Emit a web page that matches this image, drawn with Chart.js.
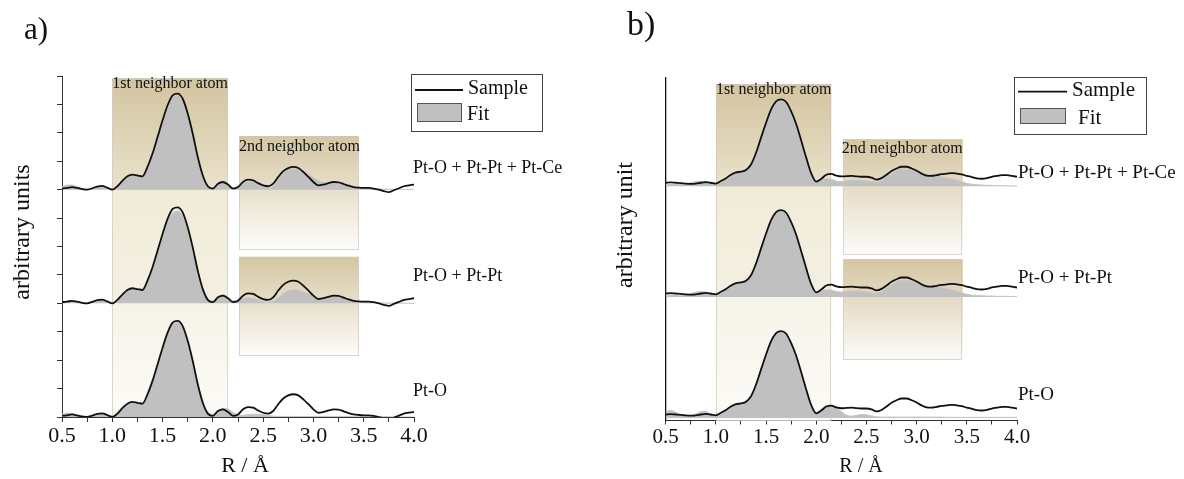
<!DOCTYPE html>
<html><head><meta charset="utf-8">
<script src="https://cdn.jsdelivr.net/npm/chart.js@4.4.1/dist/chart.umd.min.js"></script>
<style>
html,body{margin:0;padding:0;background:#fff;}
#wrap{position:relative;width:1184px;height:479px;overflow:hidden;}
#ca{position:absolute;left:0;top:0;}
#cb{position:absolute;left:590px;top:0;}
</style></head>
<body><div id="wrap"><canvas id="ca" width="590" height="479"></canvas><canvas id="cb" width="594" height="479"></canvas></div>
<script>
// ---------- data ----------
const R = [0.5,0.55,0.6,0.65,0.7,0.75,0.8,0.85,0.9,0.95,1.0,1.05,1.1,1.15,1.2,1.25,1.3,1.35,1.4,1.45,1.5,1.55,1.6,1.65,1.7,1.75,1.8,1.85,1.9,1.95,2.0,2.05,2.1,2.15,2.2,2.25,2.3,2.35,2.4,2.45,2.5,2.55,2.6,2.65,2.7,2.75,2.8,2.85,2.9,2.95,3.0,3.05,3.1,3.15,3.2,3.25,3.3,3.35,3.4,3.45,3.5,3.55,3.6,3.65,3.7,3.75,3.8,3.85,3.9,3.95,4.0];

const traceLabels = ['Pt-O + Pt-Pt + Pt-Ce', 'Pt-O + Pt-Pt', 'Pt-O'];
const xTickLabels = ['0.5','1.0','1.5','2.0','2.5','3.0','3.5','4.0'];

// panel a)
const sampleA = [0.04,0.06,0.09,0.06,0.02,0.00,0.05,0.11,0.13,0.07,
 0.00,0.12,0.31,0.47,0.53,0.50,0.47,0.80,1.27,1.85,
 2.44,2.97,3.32,3.38,3.20,2.68,1.97,1.15,0.50,0.12,
 0.04,0.21,0.27,0.18,0.04,0.09,0.27,0.35,0.33,0.23,
 0.15,0.12,0.21,0.45,0.65,0.76,0.80,0.76,0.62,0.45,
 0.27,0.15,0.18,0.23,0.27,0.26,0.20,0.14,0.09,0.07,
 0.06,0.06,0.04,0.00,-0.05,-0.09,-0.02,0.05,0.12,0.15,0.18];
const fitA_PtO_PtPt_PtCe = [0.10,0.16,0.16,0.10,0.04,0.02,0.05,0.10,0.11,0.06,
 0.02,0.12,0.30,0.45,0.50,0.48,0.46,0.78,1.24,1.80,
 2.38,2.90,3.24,3.30,3.14,2.64,1.96,1.16,0.52,0.16,
 0.08,0.22,0.30,0.22,0.08,0.08,0.20,0.28,0.26,0.18,
 0.10,0.06,0.12,0.36,0.58,0.70,0.74,0.72,0.64,0.54,
 0.42,0.32,0.26,0.23,0.22,0.20,0.16,0.12,0.08,0.05,
 0.04,0.03,0.03,0.02,0.02,0.02,0.01,0.01,0.01,0.01,0.00];
const fitA_PtO_PtPt = [0.05,0.07,0.07,0.05,0.03,0.02,0.05,0.09,0.10,0.06,
 0.02,0.12,0.30,0.45,0.50,0.48,0.46,0.78,1.22,1.78,
 2.34,2.86,3.18,3.24,3.08,2.60,1.94,1.16,0.52,0.16,
 0.08,0.22,0.30,0.22,0.10,0.10,0.16,0.20,0.18,0.12,
 0.06,0.04,0.08,0.20,0.34,0.44,0.48,0.46,0.40,0.32,
 0.24,0.20,0.20,0.24,0.26,0.25,0.20,0.14,0.09,0.05,
 0.03,0.02,0.02,0.02,0.01,0.01,0.01,0.01,0.01,0.00,0.00];
const fitA_PtO = [0.10,0.14,0.12,0.06,0.03,0.02,0.05,0.10,0.11,0.06,
 0.03,0.12,0.30,0.45,0.50,0.48,0.46,0.78,1.24,1.80,
 2.38,2.92,3.26,3.32,3.16,2.66,1.96,1.16,0.52,0.16,
 0.10,0.22,0.30,0.28,0.16,0.08,0.06,0.08,0.10,0.10,
 0.08,0.05,0.03,0.02,0.02,0.02,0.02,0.02,0.02,0.02,
 0.02,0.02,0.02,0.02,0.02,0.02,0.02,0.02,0.01,0.01,
 0.01,0.01,0.01,0.01,0.01,0.01,0.00,0.00,0.00,0.00,0.00];
const offsetsA = [8, 4, 0];
const labelYA = [8.76, 4.94, 0.89];

// panel b)
const sampleB = [0.12,0.13,0.12,0.11,0.09,0.08,0.09,0.12,0.14,0.12,
 0.09,0.18,0.28,0.40,0.48,0.51,0.57,0.76,1.17,1.70,
 2.22,2.69,2.97,3.04,2.95,2.62,2.18,1.60,1.00,0.45,
 0.16,0.26,0.40,0.43,0.37,0.34,0.35,0.36,0.34,0.33,
 0.33,0.30,0.23,0.28,0.40,0.53,0.62,0.68,0.68,0.62,
 0.54,0.44,0.37,0.36,0.39,0.42,0.44,0.46,0.44,0.41,
 0.36,0.32,0.27,0.26,0.28,0.33,0.36,0.39,0.39,0.36,0.33];
const fitB_PtO_PtPt_PtCe = [0.05,0.06,0.06,0.06,0.08,0.12,0.16,0.18,0.16,0.10,
 0.06,0.14,0.26,0.38,0.46,0.50,0.56,0.74,1.14,1.66,
 2.17,2.63,2.91,2.98,2.89,2.55,2.12,1.56,0.97,0.43,
 0.14,0.20,0.26,0.24,0.18,0.16,0.18,0.20,0.21,0.20,
 0.18,0.16,0.14,0.20,0.32,0.44,0.54,0.60,0.60,0.56,
 0.52,0.47,0.42,0.39,0.36,0.33,0.30,0.26,0.22,0.16,
 0.10,0.07,0.05,0.04,0.03,0.03,0.02,0.02,0.02,0.01,0.01];
const fitB_PtO_PtPt = [0.05,0.07,0.07,0.06,0.08,0.12,0.17,0.19,0.17,0.10,
 0.06,0.14,0.26,0.38,0.46,0.50,0.56,0.74,1.14,1.66,
 2.17,2.63,2.92,2.99,2.90,2.56,2.13,1.56,0.97,0.43,
 0.14,0.20,0.25,0.24,0.19,0.17,0.19,0.21,0.21,0.20,
 0.18,0.15,0.13,0.18,0.30,0.42,0.52,0.58,0.58,0.55,
 0.51,0.46,0.41,0.38,0.35,0.32,0.29,0.25,0.21,0.15,
 0.09,0.06,0.05,0.04,0.03,0.03,0.02,0.02,0.02,0.01,0.01];
const fitB_PtO = [0.22,0.26,0.20,0.10,0.06,0.08,0.14,0.22,0.23,0.12,
 0.06,0.14,0.26,0.38,0.46,0.50,0.56,0.74,1.14,1.66,
 2.17,2.64,2.93,3.00,2.91,2.57,2.13,1.56,0.96,0.43,
 0.20,0.30,0.40,0.43,0.36,0.22,0.10,0.06,0.09,0.12,
 0.11,0.07,0.04,0.03,0.03,0.03,0.03,0.03,0.03,0.03,
 0.03,0.03,0.03,0.03,0.03,0.03,0.02,0.02,0.02,0.02,
 0.02,0.02,0.02,0.02,0.02,0.02,0.02,0.02,0.02,0.02,0.02];
const offsetsB = [8.21, 4.33, 0.09];
const labelYB = [8.66, 4.98, 0.89];

// shaded regions [R from, R to, y bottom, y top]
const regionsA = [[1.0, 2.15, 0, 11.92], [2.26, 3.45, 5.88, 9.89], [2.26, 3.45, 2.15, 5.64]];
const regionsB = [[1.0, 2.15, 0, 11.79], [2.27, 3.46, 5.80, 9.85], [2.27, 3.46, 2.10, 5.65]];
const regionTexts = ['1st neighbor atom', '2nd neighbor atom'];

// ---------- drawing ----------
const SERIF = '"Liberation Serif", "Times New Roman", serif';
const TXT = '#111';

function pts(vals, off) { return R.map((r, i) => ({x: r, y: vals[i] + off})); }

const decor = {
  id: 'decor',
  beforeDatasetsDraw(chart, args, o) {
    const {ctx, scales: {x, y}} = chart;
    ctx.save();
    o.regions.forEach((b, i) => {
      const x0 = x.getPixelForValue(b[0]), x1 = x.getPixelForValue(b[1]);
      const y0 = y.getPixelForValue(b[3]), y1 = y.getPixelForValue(b[2]);
      const g = ctx.createLinearGradient(0, y0, 0, y1);
      (i === 0 ? o.stops1 : o.stops2).forEach(s => g.addColorStop(s[0], s[1]));
      ctx.fillStyle = g;
      ctx.fillRect(x0, y0, x1 - x0, y1 - y0);
      ctx.strokeStyle = 'rgba(205,200,190,0.7)';
      ctx.lineWidth = 1;
      ctx.strokeRect(Math.round(x0) + 0.5, Math.round(y0) + 0.5, Math.round(x1 - x0) - 1, Math.round(y1 - y0) - 1);
    });
    ctx.restore();
  },
  afterDraw(chart, args, o) {
    const {ctx, scales: {x, y}, chartArea} = chart;
    ctx.save();
    ctx.fillStyle = TXT;
    // region captions
    ctx.font = o.capFont + 'px ' + SERIF;
    ctx.textAlign = 'left'; ctx.textBaseline = 'alphabetic';
    [0, 1].forEach(i => {
      const b = o.regions[i];
      ctx.fillText(regionTexts[i], x.getPixelForValue(b[0]) + o.capDx[i], y.getPixelForValue(b[3]) + o.capDy[i]);
    });
    // trace labels
    ctx.font = o.lblFont + 'px ' + SERIF;
    ctx.textBaseline = 'middle';
    traceLabels.forEach((t, i) => ctx.fillText(t, chartArea.right + o.lblDx, y.getPixelForValue(o.labelY[i])));
    // panel letter
    ctx.font = o.letter.size + 'px ' + SERIF;
    ctx.fillText(o.letter.text, o.letter.x, o.letter.y);
    // axis titles
    ctx.font = o.xTitle.size + 'px ' + SERIF;
    ctx.textAlign = 'center';
    ctx.fillText('R / Å', o.xTitle.x, o.xTitle.y);
    ctx.save();
    ctx.translate(o.yTitle.x, o.yTitle.y);
    ctx.rotate(-Math.PI / 2);
    ctx.font = o.yTitle.size + 'px ' + SERIF;
    ctx.fillText(o.yTitle.text, 0, 0);
    ctx.restore();
    // legend
    const L = o.legend;
    ctx.fillStyle = '#fff';
    ctx.fillRect(L.box[0], L.box[1], L.box[2], L.box[3]);
    ctx.strokeStyle = '#444'; ctx.lineWidth = 1;
    ctx.strokeRect(L.box[0] + 0.5, L.box[1] + 0.5, L.box[2], L.box[3]);
    ctx.strokeStyle = '#111'; ctx.lineWidth = 1.8;
    ctx.beginPath(); ctx.moveTo(L.line[0], L.line[2]); ctx.lineTo(L.line[1], L.line[2]); ctx.stroke();
    ctx.fillStyle = '#c0c0c0';
    ctx.fillRect(L.sw[0], L.sw[1], L.sw[2], L.sw[3]);
    ctx.strokeStyle = '#555'; ctx.lineWidth = 1;
    ctx.strokeRect(L.sw[0] + 0.5, L.sw[1] + 0.5, L.sw[2], L.sw[3]);
    ctx.fillStyle = TXT;
    ctx.font = L.size + 'px ' + SERIF;
    ctx.textAlign = 'left'; ctx.textBaseline = 'middle';
    ctx.fillText('Sample', L.t1[0], L.t1[1]);
    ctx.fillText('Fit', L.t2[0], L.t2[1]);
    ctx.restore();
  }
};

function makeChart(id, p) {
  const datasets = [];
  [0, 1, 2].forEach(i => datasets.push({
    label: 'Sample ' + traceLabels[i], data: pts(p.sample, p.offsets[i]),
    borderColor: '#111', borderWidth: 1.8, pointRadius: 0, fill: false,
    cubicInterpolationMode: 'monotone'
  }));
  p.fits.forEach((f, i) => datasets.push({
    label: 'Fit ' + traceLabels[i], data: pts(f, p.offsets[i]),
    borderColor: '#c6c6c6', borderWidth: 1, pointRadius: 0,
    backgroundColor: '#c0c0c0', fill: {value: p.offsets[i]},
    cubicInterpolationMode: 'monotone'
  }));
  return new Chart(document.getElementById(id), {
    type: 'line',
    data: {datasets},
    plugins: [decor],
    options: {
      responsive: false, animation: false,
      layout: {padding: {top: p.top, right: p.right, left: 0, bottom: 0}},
      plugins: {legend: {display: false}, tooltip: {enabled: false}, decor: p.decor},
      scales: {
        x: {
          type: 'linear', min: 0.5, max: 4.0,
          afterFit: s => { s.height = p.xHeight; },
          border: {display: true, color: '#333', width: 1},
          grid: {display: true, drawOnChartArea: false, drawTicks: true, tickLength: p.xTick, color: '#333'},
          ticks: {
            stepSize: 0.25, autoSkip: false, maxRotation: 0, padding: p.xPad, color: TXT,
            font: {family: SERIF, size: p.tickFont},
            callback: v => { const k = Math.round((v - 0.5) / 0.5 * 1000) / 1000; return Number.isInteger(k) ? xTickLabels[k] : ''; }
          }
        },
        y: {
          type: 'linear', min: 0, max: 12,
          afterFit: s => { s.width = p.yWidth; },
          border: {display: true, color: p.yColor, width: p.yBorder},
          grid: {display: p.yTicks, drawOnChartArea: false, drawTicks: p.yTicks, tickLength: 5, color: '#333'},
          ticks: {display: false, stepSize: 1}
        }
      }
    }
  });
}

makeChart('ca', {
  sample: sampleA, fits: [fitA_PtO_PtPt_PtCe, fitA_PtO_PtPt, fitA_PtO], offsets: offsetsA,
  top: 76, right: 176, xHeight: 62, yWidth: 62, xTick: 5, xPad: 1, tickFont: 22,
  yTicks: true, yColor: '#333', yBorder: 1,
  decor: {
    regions: regionsA, labelY: labelYA,
    stops1: [[0, '#d3c4a0'], [0.32, '#e9e1c9'], [0.335, '#f1ecd8'], [0.655, '#f4f0e2'], [0.67, '#f6f3e8'], [1, '#fcfbf7']],
    stops2: [[0, '#d4c6a2'], [1, '#fdfcfa']],
    capFont: 16, capDx: [0, 0], capDy: [10, 15.5],
    lblFont: 18, lblDx: -1,
    letter: {text: 'a)', x: 24, y: 31, size: 31},
    xTitle: {x: 245, y: 466, size: 22},
    yTitle: {text: 'arbitrary units', x: 23, y: 232, size: 24},
    legend: {box: [411, 74, 131, 57], line: [415, 463, 90], sw: [417, 103, 44, 18], t1: [468, 89], t2: [467, 115], size: 20}
  }
});

makeChart('cb', {
  sample: sampleB, fits: [fitB_PtO_PtPt_PtCe, fitB_PtO_PtPt, fitB_PtO], offsets: offsetsB,
  top: 78, right: 167, xHeight: 58.5, yWidth: 75.7, xTick: 4, xPad: 0, tickFont: 21,
  yTicks: false, yColor: '#111', yBorder: 1.3,
  decor: {
    regions: regionsB, labelY: labelYB,
    stops1: [[0, '#d3c4a0'], [0.30, '#e9e1c9'], [0.315, '#f1ecd8'], [0.625, '#f4f0e2'], [0.64, '#f6f3e8'], [1, '#fcfbf7']],
    stops2: [[0, '#d4c6a2'], [1, '#fdfcfa']],
    capFont: 16, capDx: [0, -1.5], capDy: [10, 14],
    lblFont: 19, lblDx: 1,
    letter: {text: 'b)', x: 37, y: 26, size: 34},
    xTitle: {x: 271, y: 467, size: 20},
    yTitle: {text: 'arbitrary unit', x: 36, y: 225, size: 24},
    legend: {box: [424, 77, 132, 57], line: [428, 477, 91.7], sw: [430, 108, 45, 15], t1: [482, 90], t2: [488, 118], size: 21}
  }
});
</script>
</body></html>
